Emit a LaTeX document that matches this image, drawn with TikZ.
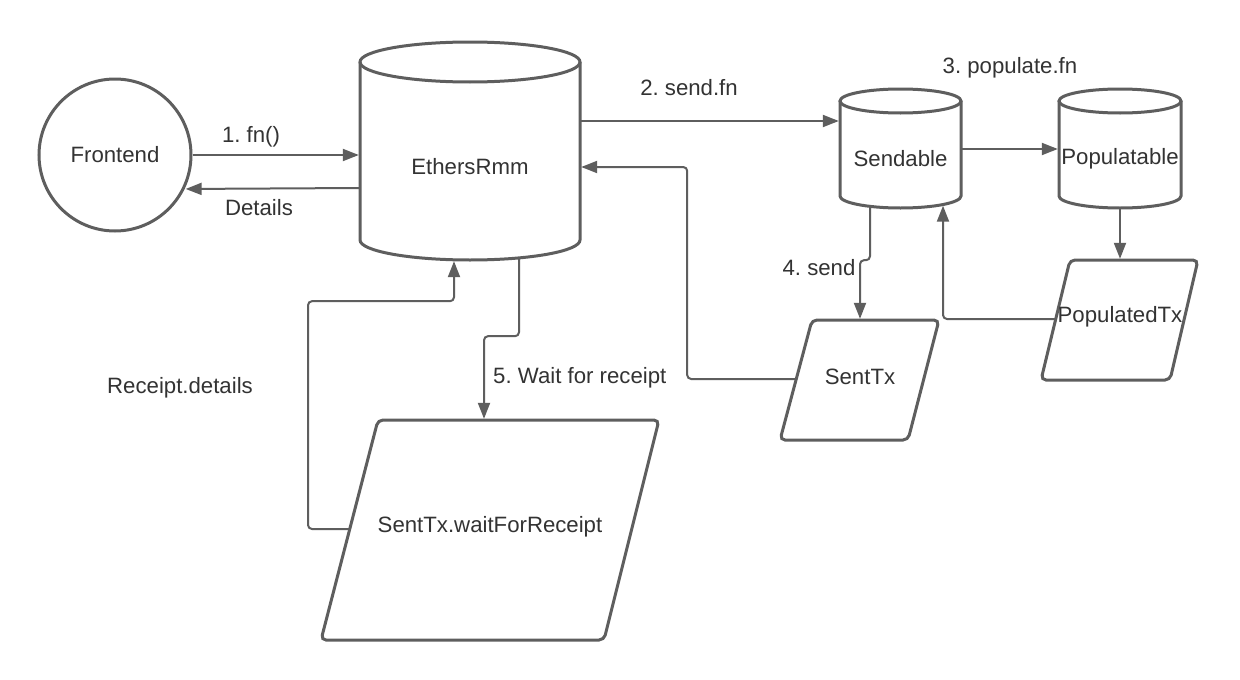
\documentclass[tikz,border=0pt]{standalone}
\usepackage{fontspec}
\setmainfont{Liberation Sans}
\usetikzlibrary{arrows.meta,calc}
\definecolor{linec}{HTML}{5E5E5E}
\definecolor{textc}{HTML}{333333}
\tikzset{
  lbl/.style={font=\fontsize{22.2}{26}\selectfont\frenchspacing, text=textc, inner sep=0pt},
  shapeline/.style={draw=linec, line width=3pt},
  conn/.style={draw=linec, line width=2pt, -{Triangle[length=16pt,width=12pt]}, rounded corners=4pt, shorten >=1pt},
}
\begin{document}
\frenchspacing
\begin{tikzpicture}[x=1pt,y=-1pt]
\useasboundingbox (0,0) rectangle (1240,680);
\fill[white] (0,0) rectangle (1240,680);

% cylinders
\draw[shapeline] (470,62) ellipse[x radius=110, y radius=20];
\draw[shapeline] (360,62) -- (360,240) .. controls (360,251.04) and (409.28,260) .. (470,260) .. controls (530.72,260) and (580,251.04) .. (580,240) -- (580,62);
\draw[shapeline] (900.5,101) ellipse[x radius=60.5, y radius=12];
\draw[shapeline] (840,101) -- (840,196) .. controls (840,202.62) and (867.1,208) .. (900.5,208) .. controls (933.9,208) and (961,202.62) .. (961,196) -- (961,101);
\draw[shapeline] (1120,101) ellipse[x radius=61, y radius=12];
\draw[shapeline] (1059,101) -- (1059,196) .. controls (1059,202.62) and (1086.3,208) .. (1120,208) .. controls (1153.7,208) and (1181,202.62) .. (1181,196) -- (1181,101);

% parallelograms
\draw[shapeline, rounded corners=5pt] (1070,260) -- (1198,260) -- (1170,380) -- (1041,380) -- cycle;
\draw[shapeline, rounded corners=5pt] (812,320) -- (939,320) -- (908,440) -- (780,440) -- cycle;
\draw[shapeline, rounded corners=5pt] (378,420) -- (659,420) -- (604,640) -- (321,640) -- cycle;

% nodes
\node[lbl, circle, shapeline, minimum size=152pt] (fe) at (115,155) {Frontend};
\node[lbl, minimum width=220pt, minimum height=186pt] (eth) at (470,167) {EthersRmm};
\node[lbl, minimum width=121pt, minimum height=99pt] (snd) at (900.5,158.5) {Sendable};
\node[lbl, minimum width=122pt, minimum height=99pt] (pop) at (1120,158.5) {Populatable};
\node[lbl, minimum height=114pt] (ptx) at (1120,317) {PopulatedTx};
\node[lbl, minimum height=114pt] (stx) at (860,377) {SentTx};
\node[lbl, minimum height=214pt] (wfr) at (490,527) {SentTx.waitForReceipt};

% labels
\node[lbl] (l1) at (251,137) {1. fn()};
\node[lbl] (l2) at (259,208) {Details};
\node[lbl] (l3) at (689,88) {2. send.fn};
\node[lbl] (l4) at (1010,68) {3. populate.fn};
\node[lbl] (l5) at (819,268) {4. send};
\node[lbl, anchor=west] (l6) at (493,378) {5. Wait for receipt};
\node[lbl] (l7) at (180,388) {Receipt.details};

% free ends on slanted edges
\coordinate (ptxL) at (1055.5,319);
\coordinate (stxL) at (796,379);
\coordinate (wfrL) at (350,529);

% connectors
\draw[conn] (fe.east) -- (eth.west |- fe.east);
\draw[conn] ([yshift=-21pt]eth.west) -- (fe.-26);
\draw[conn] ([yshift=46pt]eth.east) coordinate (s2) -- (snd.west |- s2);
\draw[conn] ([yshift=9.5pt]snd.east) -- ([yshift=9.5pt]pop.west);
\draw[conn] (pop.south) -- (ptx.north);
\draw[conn] (ptxL) -| ([xshift=42.5pt,yshift=3.5pt]snd.south);
\draw[conn] (stxL) -| ($(eth.east)+(107,0)$) -- (eth.east);
\draw[conn] ([xshift=-30.5pt,yshift=2pt]snd.south) -- ++(0,54) -| (stx.north);
\draw[conn] ([xshift=49pt,yshift=2pt]eth.south) -- ++(0,78) -| ([xshift=-6pt]wfr.north);
\draw[conn] (wfrL) -- ++(-42,0) |- ([xshift=-16pt,yshift=-41pt]eth.south) -- ([xshift=-16pt]eth.south);
\end{tikzpicture}
\end{document}
